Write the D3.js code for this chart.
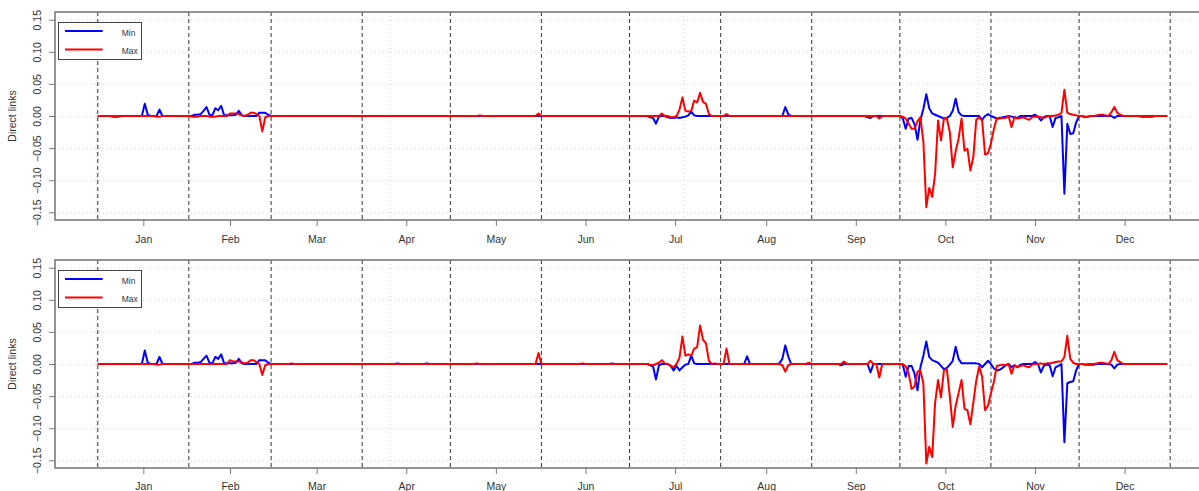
<!DOCTYPE html>
<html>
<head>
<meta charset="utf-8">
<script src="https://cdn.jsdelivr.net/npm/d3@7"></script>
<style>
  html, body { margin: 0; padding: 0; background: #fff; }
  svg { display: block; font-family: "Liberation Sans", Arial, sans-serif; }
</style>
</head>
<body>
<svg id="chart" width="1199" height="491"></svg>
<script>
// ---------------- DATA ----------------
const monthLabels = ["Jan","Feb","Mar","Apr","May","Jun","Jul","Aug","Sep","Oct","Nov","Dec"];
const monthStarts = [0,31,59,90,120,151,181,212,243,273,304,334,365]; // day-of-year boundaries
const yTicks = [-0.15,-0.10,-0.05,0.00,0.05,0.10,0.15];
const gridDays = [-0.5, 99.5, 199.5, 299.5];
const nDays = 365;
const seriesNames = ["Min","Max"];

// non-zero daily values [dayOfYear, value]; all other days are 0
const minTop = [
  [5,-0.001],[6,-0.001],[7,-0.001],
  [16,0.019],[17,0.002],[21,0.010],
  [33,0.002],[34,0.002],[35,0.003],[36,0.008],[37,0.014],[38,0.002],[39,0.001],
  [40,0.012],[41,0.009],[42,0.016],[43,0.001],[44,0.001],[45,0.001],[46,0.001],[47,0.002],
  [48,0.008],[49,0.001],[55,0.005],[56,0.005],[57,0.005],[58,0.002],
  [188,-0.002],[189,-0.003],[190,-0.012],[191,-0.001],
  [194,-0.002],[195,-0.003],[196,-0.003],[197,-0.002],[198,-0.003],[199,-0.002],[200,-0.001],
  [201,0.001],[202,0.007],[203,0.001],
  [234,0.014],[235,0.003],
  [262,-0.002],[263,-0.003],
  [274,-0.004],[275,-0.020],[276,-0.004],[277,-0.003],[278,-0.013],[279,-0.037],[280,-0.006],
  [281,0.011],[282,0.034],[283,0.012],[284,0.004],[285,0.002],[287,-0.002],[288,-0.004],[289,-0.003],
  [291,0.008],[292,0.027],[293,0.006],[294,0.001],
  [301,-0.006],[303,0.003],[305,-0.002],[306,-0.004],[307,-0.003],[308,-0.002],[309,-0.001],
  [311,-0.001],[312,-0.002],[313,-0.003],[319,0.002],[320,-0.001],[321,-0.007],[322,-0.002],
  [325,-0.017],[326,-0.003],[327,-0.002],
  [329,-0.121],[330,-0.012],[331,-0.028],[332,-0.027],[333,-0.010],
  [336,-0.001],[337,-0.001],[346,-0.003],
  [355,-0.001],[356,-0.001],[357,-0.001],[358,-0.001],[359,-0.001]
];
const maxTop = [
  [20,-0.001],[21,-0.001],
  [32,-0.001],[33,-0.001],[34,-0.001],[38,-0.001],[39,-0.001],[40,-0.001],
  [45,0.004],[46,0.004],[47,0.004],[48,0.003],[49,0.001],[51,0.002],[52,0.005],[53,0.005],[54,0.003],
  [56,-0.024],[57,-0.002],
  [130,0.001],[150,0.004],
  [192,0.004],[195,-0.002],[196,-0.002],[198,0.010],[199,0.029],[200,0.008],[201,0.007],[202,0.008],
  [203,0.024],[204,0.021],[205,0.036],[206,0.022],[207,0.019],[208,0.003],
  [214,0.003],[266,-0.004],
  [274,-0.001],[275,-0.004],[276,-0.012],[277,-0.020],[278,-0.020],[279,-0.008],[280,-0.002],
  [281,-0.040],[282,-0.142],[283,-0.112],[284,-0.126],[285,-0.090],[286,-0.007],[287,-0.038],
  [288,-0.004],[289,-0.004],[290,-0.025],[291,-0.080],[292,-0.055],[293,-0.035],[294,-0.004],
  [295,-0.054],[296,-0.051],[297,-0.085],[298,-0.064],[299,-0.006],[300,-0.002],[301,-0.007],
  [302,-0.060],[303,-0.058],[304,-0.043],[305,-0.020],[306,-0.004],
  [307,-0.004],[308,-0.003],[309,-0.003],[311,-0.017],[312,-0.002],[313,-0.004],[314,-0.003],
  [315,-0.002],[316,-0.004],[317,-0.006],[318,-0.002],[319,-0.001],[320,-0.001],[321,-0.002],
  [322,-0.003],[323,-0.001],[326,0.001],[327,0.002],[328,0.005],[329,0.041],[330,0.005],
  [331,0.003],[332,0.002],[333,0.001],
  [336,-0.002],[337,-0.001],[340,0.001],[341,0.002],[342,0.002],[343,0.001],
  [345,0.006],[346,0.014],[347,0.005],[348,0.002]
];
const minBottom = [
  [16,0.021],[17,0.002],[21,0.011],
  [33,0.002],[34,0.002],[35,0.003],[36,0.008],[37,0.013],[38,0.002],[39,0.001],
  [40,0.011],[41,0.008],[42,0.015],[43,0.001],[44,0.001],[45,0.001],[46,0.001],[47,0.002],
  [48,0.008],[49,0.001],[55,0.006],[56,0.006],[57,0.006],[58,0.002],
  [102,0.001],[112,0.001],[175,0.001],
  [188,-0.002],[189,-0.004],[190,-0.024],[191,-0.002],
  [195,-0.003],[196,-0.010],[197,-0.003],[198,-0.010],[199,-0.005],[200,-0.001],
  [202,0.013],[203,0.001],
  [221,0.012],
  [232,0.001],[233,0.008],[234,0.029],[235,0.012],
  [253,-0.002],[263,-0.013],
  [274,-0.001],[275,-0.020],[276,-0.003],[277,-0.003],[278,-0.015],[279,-0.041],[280,-0.005],
  [281,0.013],[282,0.035],[283,0.011],[284,0.006],[285,0.004],[286,0.002],[287,-0.003],
  [288,-0.008],[289,-0.006],[290,-0.001],[291,0.005],[292,0.027],[293,0.008],[294,0.001],
  [295,0.001],[296,0.001],[297,0.001],[298,0.001],[299,0.001],[301,-0.005],[303,0.005],
  [305,-0.007],[306,-0.010],[307,-0.009],[308,-0.006],[309,-0.002],[311,-0.005],[312,-0.002],
  [313,-0.005],[314,-0.001],[319,0.003],[321,-0.013],[322,-0.003],[323,-0.001],[324,-0.002],
  [325,-0.019],[326,-0.005],[327,-0.003],
  [329,-0.122],[330,-0.030],[331,-0.028],[332,-0.027],[333,-0.010],
  [336,-0.001],[337,-0.001],[338,-0.001],[339,-0.001],[345,-0.001],[346,-0.007],[347,-0.001]
];
const maxBottom = [
  [20,-0.001],[21,-0.001],
  [45,0.006],[46,0.004],[47,0.004],[48,0.004],[49,0.003],[50,0.001],[51,0.002],[52,0.006],
  [53,0.006],[54,0.003],[56,-0.017],[57,-0.002],
  [66,0.001],[129,0.001],[150,0.017],[165,0.001],
  [188,-0.001],[189,-0.002],[191,0.002],[192,0.006],[193,0.001],[195,-0.003],[196,-0.005],
  [198,0.010],[199,0.043],[200,0.013],[201,0.015],[202,0.013],[203,0.024],[204,0.026],
  [205,0.060],[206,0.038],[207,0.032],[208,0.005],[210,0.001],
  [214,0.024],
  [233,-0.002],[234,-0.012],[235,-0.002],
  [242,0.002],[254,0.004],[263,0.005],[266,-0.021],
  [275,-0.004],[276,-0.015],[277,-0.039],[278,-0.035],[279,-0.012],[280,-0.010],[281,-0.030],
  [282,-0.155],[283,-0.129],[284,-0.145],[285,-0.060],[286,-0.025],[287,-0.052],[288,-0.010],
  [289,-0.008],[290,-0.050],[291,-0.098],[292,-0.065],[293,-0.045],[294,-0.025],[295,-0.070],
  [296,-0.072],[297,-0.094],[298,-0.060],[299,-0.026],[300,-0.004],[301,-0.020],[302,-0.072],
  [303,-0.065],[304,-0.045],[305,-0.028],[306,-0.003],
  [307,-0.002],[308,-0.001],[309,-0.002],[311,-0.015],[312,-0.002],[313,-0.005],[314,-0.003],
  [315,-0.002],[316,-0.004],[317,-0.005],[318,-0.001],[321,0.001],[323,0.001],[324,0.001],
  [325,0.002],[326,0.003],[327,0.004],[328,0.004],[329,0.011],[330,0.044],[331,0.008],[332,0.002],
  [336,-0.001],[340,0.001],[341,0.002],[342,0.002],[343,0.001],
  [345,0.006],[346,0.019],[347,0.006],[348,0.003]
];

// ---------------- DRAW ----------------
const svg = d3.select("#chart");
const days = d3.range(nDays);
const dense = sparse => { const m = new Map(sparse); return days.map(d => ({d, v: m.has(d) ? m.get(d) : 0})); };

const x = d3.scaleLinear().domain([-14.56, nDays - 1 + 14.56]).range([55, 1210]);
const monthMids = monthLabels.map((m, i) => (monthStarts[i] + monthStarts[i+1]) / 2);

const panels = [
  {top: 12, bottom: 220, min: minTop, max: maxTop, pad: 10},
  {top: 260, bottom: 468, min: minBottom, max: maxBottom, pad: 9}
];
const colors = {Min: "#0000ff", Max: "#ff0000"};
const FONT = "'Liberation Sans', Arial, sans-serif";

panels.forEach(p => {
  const y = d3.scaleLinear().domain([-0.162, 0.162]).range([p.bottom, p.top]);
  const g = svg.append("g");
  const [x0, x1] = x.range();

  // grid
  g.append("g").selectAll("line").data(yTicks).join("line")
    .attr("x1", x0).attr("x2", x1).attr("y1", d => y(d) + 0.5).attr("y2", d => y(d) + 0.5)
    .attr("stroke", "#d3d3d3").attr("stroke-width", 1).attr("stroke-dasharray", "1,3");
  g.append("g").selectAll("line").data(gridDays).join("line")
    .attr("x1", d => x(d)).attr("x2", d => x(d)).attr("y1", p.top).attr("y2", p.bottom)
    .attr("stroke", "#d3d3d3").attr("stroke-width", 1).attr("stroke-dasharray", "1,3");

  // month boundary dashed lines
  g.append("g").selectAll("line").data(monthStarts).join("line")
    .attr("x1", d => x(d)).attr("x2", d => x(d)).attr("y1", p.top).attr("y2", p.bottom)
    .attr("stroke", "#333").attr("stroke-width", 1).attr("stroke-dasharray", "4,3");

  // series (blue first, red on top)
  const line = d3.line().x(d => x(d.d)).y(d => y(d.v));
  [["Min", p.min], ["Max", p.max]].forEach(([name, data]) => {
    g.append("path").datum(dense(data))
      .attr("d", line).attr("fill", "none")
      .attr("stroke", colors[name]).attr("stroke-width", 2)
      .attr("stroke-linejoin", "round");
  });

  // box
  g.append("rect").attr("x", x0).attr("y", p.top).attr("width", x1 - x0).attr("height", p.bottom - p.top)
    .attr("fill", "none").attr("stroke", "#7a7a7a").attr("stroke-width", 1.6);

  // y axis
  const ya = g.append("g").attr("transform", `translate(${x0},0)`)
    .call(d3.axisLeft(y).tickValues(yTicks).tickSize(6).tickFormat(d3.format(".2f")));
  ya.select(".domain").remove();
  ya.selectAll(".tick line").attr("stroke", "#7a7a7a");
  ya.selectAll(".tick text")
    .attr("transform", "rotate(-90)").attr("x", 0).attr("y", -17.5).attr("dy", "0.35em")
    .attr("text-anchor", "middle").attr("fill", "#333")
    .style("font-size", "10.5px").style("font-family", FONT);

  // x axis
  const xa = g.append("g").attr("transform", `translate(0,${p.bottom})`)
    .call(d3.axisBottom(x).tickValues(monthMids).tickSize(6).tickPadding(p.pad)
      .tickFormat((d, i) => monthLabels[i]));
  xa.select(".domain").remove();
  xa.selectAll(".tick line").attr("stroke", "#7a7a7a");
  xa.selectAll(".tick text").attr("fill", "#333")
    .style("font-size", "10.5px").style("font-family", FONT);

  // y label
  g.append("text")
    .attr("transform", `translate(12,${(p.top + p.bottom) / 2}) rotate(-90)`)
    .attr("text-anchor", "middle").attr("dy", "0.35em")
    .attr("fill", "#333").style("font-size", "10.5px")
    .text("Direct links");

  // legend
  const lg = g.append("g").attr("transform", `translate(0,${p.top - 12})`);
  lg.append("rect").attr("x", 58.5).attr("y", 22.5).attr("width", 83).attr("height", 37)
    .attr("fill", "#fff").attr("stroke", "#444").attr("stroke-width", 1);
  seriesNames.forEach((name, i) => {
    const ly = 31 + i * 18.6;
    lg.append("line").attr("x1", 65).attr("x2", 102.7).attr("y1", ly).attr("y2", ly)
      .attr("stroke", colors[name]).attr("stroke-width", 2);
    lg.append("text").attr("x", 121.7).attr("y", ly + 1.6).attr("dy", "0.35em")
      .attr("fill", "#333").style("font-size", "8.5px").text(name);
  });
});
</script>
</body>
</html>
